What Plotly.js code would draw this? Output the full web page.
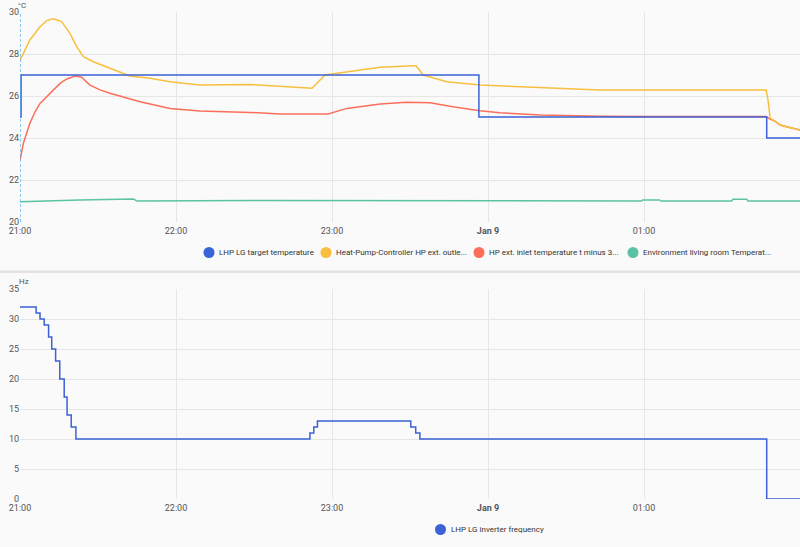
<!DOCTYPE html>
<html>
<head>
<meta charset="utf-8">
<script src="https://cdn.plot.ly/plotly-3.0.1.min.js"></script>
<style>
  html, body { margin: 0; padding: 0; background: #fafafa; }
  #chart { width: 800px; height: 547px; }
</style>
</head>
<body>
<div id="chart"></div>
<script>
// minutes after 21:00 (Jan 8) and values
var targetMin = [0, 0.4, 176.5, 287.2, 300];
var targetVal = [25, 27, 25, 24, 24];

var outletMin = [0, 3.8, 7.7, 10.3, 12.8, 16, 19.2, 21.8, 24.4, 28.2, 34.6, 42.3, 50, 57.7, 69.2,
                 88.5, 107.7, 112.3, 117.3, 125.7, 138.5, 151.2, 152.3, 155.1, 164.1, 176.9, 184.6,
                 203.8, 223, 261.5, 287, 287.7, 288.5, 290.4, 292.3, 296, 300];
var outletVal = [27.7, 28.67, 29.3, 29.59, 29.68, 29.54, 28.98, 28.35, 27.87, 27.63, 27.32, 26.95, 26.84, 26.68, 26.52,
                 26.55, 26.4, 26.37, 27.0, 27.16, 27.37, 27.44, 27.44, 27.0, 26.68, 26.52, 26.48,
                 26.38, 26.29, 26.29, 26.29, 25.8, 24.95, 24.8, 24.62, 24.5, 24.38];

var inletMin = [0, 1.3, 3.8, 5.8, 7.7, 11.5, 15.4, 18, 21.2, 23.7, 26.9, 30.8, 34.6, 46.2, 57.7, 69.2,
                88.5, 100, 118.5, 125.7, 138.5, 148.7, 157.7, 166.5, 176.9, 184.6, 200, 223, 242,
                287, 288.5, 290.4, 292.3, 296, 300];
var inletVal = [22.95, 23.75, 24.7, 25.25, 25.65, 26.13, 26.6, 26.81, 26.95, 26.89, 26.52, 26.29, 26.13, 25.73, 25.41, 25.29,
                25.22, 25.14, 25.14, 25.41, 25.62, 25.7, 25.68, 25.49, 25.3, 25.2, 25.1, 25.04, 25.02,
                25.02, 24.9, 24.8, 24.62, 24.5, 24.38];

var roomMin = [0, 3, 3.8, 23, 43.6, 44.9, 90, 150, 239, 239.5, 246, 246.5, 273.7, 274.2, 279.5, 280, 300];
var roomVal = [20.97, 20.98, 21.01, 21.05, 21.1, 21.0, 21.02, 21.01, 21.0, 21.05, 21.05, 21.0, 21.0, 21.08, 21.08, 21.0, 21.0];

var freqMin = [0, 6.2, 7.7, 9.3, 11, 12.2, 13.7, 15.3, 17.0, 18.1, 19.7, 21.5,
               111.5, 113, 114.4, 150.3, 152.2, 153.8, 287.2, 300];
var freqVal = [32, 31, 30, 29, 27, 25, 23, 20, 17, 14, 12, 10,
               11, 12, 13, 12, 11, 10, 0, 0];

var tickVals = ['2024-01-08 21:00', '2024-01-08 22:00', '2024-01-08 23:00',
                '2024-01-09 00:00', '2024-01-09 01:00', '2024-01-09 02:00'];
var tickText = ['21:00', '22:00', '23:00', '<b>Jan 9</b>', '01:00', '02:00'];

var topNames = ['LHP LG target temperature', 'Heat-Pump-Controller HP ext. outle...',
                'HP ext. inlet temperature t minus 3...', 'Environment living room Temperat...'];
var bottomName = 'LHP LG inverter frequency';

var blue = '#3b62d6', yellow = '#f8bf3e', red = '#fb6f5a', green = '#5cc2a5';
var topColors = [blue, yellow, red, green];

function at(min) {
  var d = new Date(Date.UTC(2024, 0, 8, 21, 0, 0) + min * 60000);
  return d.toISOString().slice(0, 19).replace('T', ' ');
}

function line(mins, vals, color, shape, xa, ya) {
  return {
    x: mins.map(at), y: vals, type: 'scatter', mode: 'lines',
    line: {color: color, width: 1.5, shape: shape},
    xaxis: xa, yaxis: ya, showlegend: false, hoverinfo: 'x+y'
  };
}

var data = [
  line(roomMin, roomVal, green, 'linear', 'x', 'y'),
  line(inletMin, inletVal, red, 'linear', 'x', 'y'),
  line(outletMin, outletVal, yellow, 'linear', 'x', 'y'),
  line(targetMin, targetVal, blue, 'hv', 'x', 'y'),
  line(freqMin, freqVal, blue, 'hv', 'x2', 'y2')
];

// legend drawn by hand: round dot + label, placed in page pixels
var W = 800, H = 547, ML = 20;
function px(x) { return (x - ML) / (W - ML); }
function py(y) { return 1 - y / H; }

var shapes = [
  {type: 'line', xref: 'x', yref: 'y', x0: at(0), x1: at(0), y0: 20, y1: 30,
   line: {color: '#3fa9e8', width: 1.2, dash: '3px,2px'}},
  {type: 'rect', xref: 'paper', yref: 'paper', x0: -0.03, x1: 1.01, y0: py(273), y1: py(270.5),
   fillcolor: '#e2e2e2', line: {width: 0}}
];
var annotations = [
  {text: '°C', xref: 'paper', yref: 'paper', x: px(17), y: py(0), xanchor: 'left', yanchor: 'top',
   showarrow: false, borderpad: 0, font: {size: 8, color: '#555'}},
  {text: 'Hz', xref: 'paper', yref: 'paper', x: px(17), y: py(281), xanchor: 'left', yanchor: 'middle',
   showarrow: false, font: {size: 8, color: '#555'}}
];

function legendItem(name, color, cx, cy) {
  shapes.push({type: 'circle', xref: 'paper', yref: 'paper', xsizemode: 'pixel', ysizemode: 'pixel',
               xanchor: px(cx), yanchor: py(cy), x0: -5.5, x1: 5.5, y0: -5.5, y1: 5.5,
               fillcolor: color, line: {width: 0}});
  annotations.push({text: name, xref: 'paper', yref: 'paper', x: px(cx + 8), y: py(cy),
                    xanchor: 'left', yanchor: 'middle', showarrow: false,
                    font: {size: 8, color: '#333'}});
}
var topDotX = [209, 326, 479, 633];
topNames.forEach(function(n, i) { legendItem(n, topColors[i], topDotX[i], 252.5); });
legendItem(bottomName, blue, 440.5, 529.5);

var tickFont = {family: 'Roboto, sans-serif', size: 9, color: '#555'};
var xCommon = {
  type: 'date', range: [tickVals[0], tickVals[5]],
  tickmode: 'array', tickvals: tickVals, ticktext: tickText,
  showgrid: true, gridcolor: '#e6e6e6', zeroline: false, showline: false,
  ticks: '', ticklabelstandoff: 2, tickfont: tickFont, fixedrange: true
};

var layout = {
  width: W, height: H,
  margin: {l: ML, r: 0, t: 0, b: 0},
  paper_bgcolor: '#fafafa', plot_bgcolor: '#fafafa',
  font: {family: 'Roboto, sans-serif', size: 8, color: '#333'},
  showlegend: false,
  xaxis: Object.assign({}, xCommon, {anchor: 'y'}),
  yaxis: {domain: [py(222), py(12)], range: [20, 30], dtick: 2, anchor: 'x',
          showgrid: true, gridcolor: '#e6e6e6', zeroline: false, ticks: '', tickfont: tickFont},
  xaxis2: Object.assign({}, xCommon, {anchor: 'y2'}),
  yaxis2: {domain: [py(499), py(289)], range: [0, 35], dtick: 5, anchor: 'x2',
           showgrid: true, gridcolor: '#e6e6e6', zeroline: false, ticks: '', tickfont: tickFont},
  shapes: shapes,
  annotations: annotations
};

Plotly.newPlot('chart', data, layout, {displayModeBar: false, staticPlot: true});
</script>
</body>
</html>
